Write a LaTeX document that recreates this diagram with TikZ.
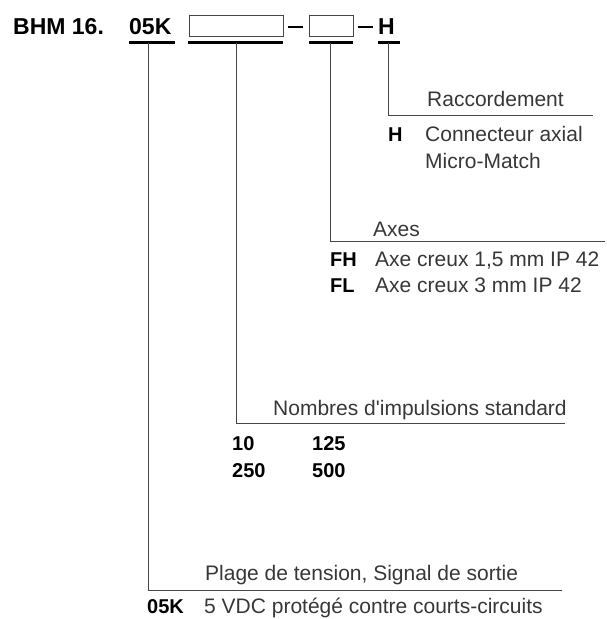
\documentclass[tikz,border=0pt]{standalone}
\usepackage{fontspec}
\setmainfont{Liberation Sans}
\usetikzlibrary{calc,positioning}
\definecolor{inkGray}{RGB}{55,55,55}
\definecolor{ruleGray}{RGB}{70,70,70}
\tikzset{
  hdrText/.style={anchor=base west,inner sep=0pt,font=\fontsize{23}{27}\selectfont\bfseries},
  codeBox/.style={rectangle,draw=ruleGray,line width=1pt,inner sep=0pt,
                  minimum height=21pt},
  keyBar/.style={line width=3pt,black},
  leadLine/.style={line width=0.9pt,ruleGray},
  capText/.style={anchor=base west,inner sep=0pt,text=inkGray,
                  font=\fontsize{21}{25}\selectfont},
  optKey/.style={anchor=base west,inner sep=0pt,font=\fontsize{20}{24}\selectfont\bfseries},
}

\begin{document}
\begin{tikzpicture}[x=1pt,y=-1pt]
  \useasboundingbox (0,0) rectangle (607,619);
  % type code
  \node[hdrText] (bhm)  at (13,34)  {BHM 16.};
  \node[hdrText] (volt) at (129,34) {05K};
  \node[codeBox,minimum width=94pt](pulse) at (236,25.5) {};
  \node[codeBox,minimum width=44pt](axis)  at (331,25.5) {};
  \node[hdrText] (conn) at (378,34) {H};
  \draw[keyBar,line width=2.5pt]([shift={(4,1.5)}]pulse.east)--([shift={(-6,1.5)}]axis.west);
  \draw[keyBar,line width=2.5pt]([shift={(4,1.5)}]axis.east)--([shift={(-5,-7)}]conn.base west);
  % bars under the code, with the tap of each leader
  \foreach \n/\a/\b/\t in {v/129/175/148, p/188/283/236, a/309/353/330, h/378/400/388}{
    \coordinate (\n L) at (\a,42.5);
    \coordinate (\n R) at (\b,42.5);
    \coordinate (\n T) at (\t,42.5);
    \draw[keyBar](\n L)--(\n R);
  }
  \coordinate (hEnd) at (593,115);
  \coordinate (aEnd) at (605,241);
  \coordinate (pEnd) at (565,423);
  \coordinate (vEnd) at (562,590);
  \foreach \n in {h,a,p,v}{
    \draw[leadLine](\n T)|-(\n End);
  }
  % Raccordement
  \node[capText](hHead) at (427,106) {Raccordement};
  \node[optKey](hKey)   at (388,141) {H};
  \node[capText](hOpt)  at (425,141) {Connecteur axial};
  \node[capText](hOpt2) at (425,168) {Micro-Match};
  % Axes
  \node[capText](aHead) at (373,236) {Axes};
  \foreach \k/\d/\y in {FH/{Axe creux 1,5 mm IP 42}/266, FL/{Axe creux 3 mm IP 42}/292}{
    \node[optKey](aKey\k) at (330,\y) {\k};
    \node[capText](aOpt\k) at (375,\y) {\d};
  }
  % Nombres d'impulsions
  \node[capText](pHead) at (273,415) {Nombres d\textquotesingle impulsions standard};
  \foreach \v/\x/\y in {10/232/450, 125/312/450, 250/232/477, 500/312/477}{
    \node[optKey](pOpt\v) at (\x,\y) {\v};
  }
  % Plage de tension
  \node[capText](vHead) at (205,580) {Plage de tension, Signal de sortie};
  \node[optKey](vKey)   at (147,613.5) {05K};
  \node[capText](vOpt)  at (204,613.5) {5 VDC protégé contre courts-circuits};
\end{tikzpicture}
\end{document}
